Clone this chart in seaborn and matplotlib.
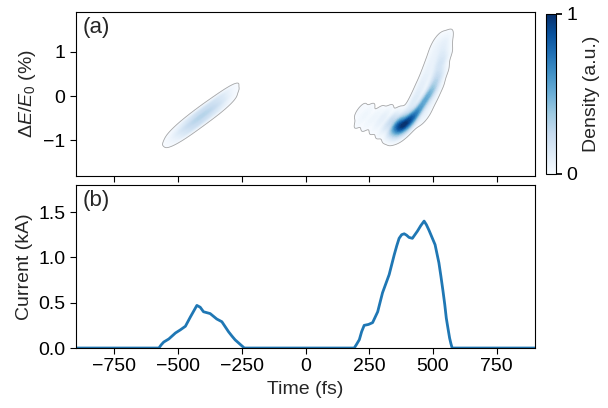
import numpy as np
import pandas as pd
import matplotlib
matplotlib.use('Agg')
from matplotlib import pyplot as plt
from matplotlib.colors import ListedColormap
import seaborn as sns

# phase space: sample points inside each bunch, with weights
# first (weaker) bunch: ridge plus rows just above and below it
bunch1_t = [-505, -475, -448, -420, -395, -370, -345, -320,
            -505, -475, -448, -420, -395, -370, -345, -320,
            -505, -475, -448, -420, -395, -370, -345, -320]
bunch1_de = [-0.85, -0.73, -0.62, -0.50, -0.40, -0.30, -0.20, -0.09,
             -0.75, -0.61, -0.50, -0.38, -0.28, -0.18, -0.08, 0.03,
             -0.95, -0.85, -0.74, -0.62, -0.52, -0.42, -0.32, -0.21]
bunch1_w = [0.4, 0.7, 0.9, 1.0, 0.9, 0.8, 0.7, 0.5,
            0.2, 0.4, 0.6, 0.7, 0.7, 0.6, 0.6, 0.5,
            0.2, 0.5, 0.8, 0.8, 0.6, 0.5, 0.4, 0.3]

# second (main) bunch: tail, dense core, rising arm (ridge, lighter left side, thin right side)
bunch2_t = [215, 215, 245, 245, 280, 280, 310, 310,
            340, 345, 362, 370, 368, 388, 392, 405, 415, 420,
            435, 450, 465, 480, 495, 508, 518, 527, 535, 542, 546,
            410, 425, 440, 455, 470, 485, 498, 510, 520,
            465, 490, 512, 530, 545]
bunch2_de = [-0.33, -0.55, -0.36, -0.60, -0.43, -0.65, -0.45, -0.70,
             -0.55, -0.73, -0.62, -0.68, -0.78, -0.65, -0.74, -0.52, -0.62, -0.45,
             -0.42, -0.27, -0.12, 0.00, 0.14, 0.32, 0.52, 0.74, 0.95, 1.15, 1.30,
             -0.30, -0.12, 0.05, 0.25, 0.45, 0.68, 0.90, 1.12, 1.30,
             -0.45, -0.15, 0.12, 0.45, 0.85]
bunch2_w = [0.08, 0.08, 0.10, 0.10, 0.12, 0.12, 0.20, 0.20,
            0.50, 0.45, 0.90, 1.00, 0.40, 0.90, 0.45, 0.60, 0.55, 0.50,
            0.55, 0.50, 0.50, 0.48, 0.45, 0.42, 0.38, 0.32, 0.25, 0.18, 0.10,
            0.17, 0.17, 0.17, 0.16, 0.15, 0.13, 0.11, 0.09, 0.06,
            0.15, 0.15, 0.13, 0.10, 0.08]

# current profile
cur_t = [-900, -575, -566, -556, -536, -510, -491, -471, -452, -440, -426, -413, -400, -374, -348, -328, -302,
         -288, -276, -240,
         191, 200, 211, 220, 230, 247, 263, 283, 292, 302, 315, 328, 338, 348, 358, 367, 377, 387, 396, 406, 419,
         439, 452, 465, 474, 484, 496, 508, 523, 531, 539, 546, 552, 559, 565, 570, 575, 900]
cur_ka = [0.0, 0.0, 0.035, 0.066, 0.10, 0.166, 0.20, 0.24, 0.34, 0.40, 0.47, 0.45, 0.40, 0.38, 0.32, 0.29, 0.18,
          0.13, 0.09, 0.0,
          0.0, 0.04, 0.092, 0.18, 0.25, 0.26, 0.28, 0.40, 0.50, 0.61, 0.71, 0.81, 0.92, 1.03, 1.13, 1.21, 1.25, 1.26,
          1.245, 1.22, 1.21,
          1.29, 1.35, 1.40, 1.36, 1.30, 1.22, 1.14, 0.94, 0.79, 0.63, 0.48, 0.33, 0.21, 0.11, 0.05, 0.0, 0.0]

b1 = pd.DataFrame({'t': bunch1_t, 'de': bunch1_de, 'w': bunch1_w})
b2 = pd.DataFrame({'t': bunch2_t, 'de': bunch2_de, 'w': bunch2_w})
cur = pd.DataFrame({'t': cur_t, 'I': cur_ka})

sns.set_theme(style='ticks')
plt.rcParams['font.family'] = ['Liberation Sans', 'DejaVu Sans']
plt.rcParams['mathtext.fontset'] = 'custom'
plt.rcParams['mathtext.rm'] = 'Liberation Sans'
plt.rcParams['mathtext.it'] = 'Liberation Sans:italic'
plt.rcParams['axes.edgecolor'] = 'black'
plt.rcParams['xtick.color'] = 'black'
plt.rcParams['ytick.color'] = 'black'

blues = plt.get_cmap('Blues')
# weaker bunch only reaches the light end of the scale
blues_light = ListedColormap(blues(np.linspace(0, 0.3, 256)))

fig = plt.figure(figsize=(6.08, 4.08), dpi=100)
ax1 = fig.add_axes([0.125, 0.569, 0.755, 0.402])
ax2 = fig.add_axes([0.125, 0.147, 0.755, 0.400], sharex=ax1)
cax = fig.add_axes([0.898, 0.574, 0.0165, 0.392])

for df, cm, bw in [(b1, blues_light, 0.6), (b2, blues, 0.27)]:
    sns.kdeplot(data=df, x='t', y='de', weights='w', fill=True, cmap=cm, levels=60, thresh=0.02,
                bw_method=bw, gridsize=200, ax=ax1)
    sns.kdeplot(data=df, x='t', y='de', weights='w', fill=False, levels=[0.02], color='0.65', linewidths=0.6,
                bw_method=bw, gridsize=200, ax=ax1)

sns.lineplot(data=cur, x='t', y='I', color='#1f77b4', lw=2, ax=ax2)

sm = plt.cm.ScalarMappable(cmap='Blues', norm=plt.Normalize(0, 1))
cb = fig.colorbar(sm, cax=cax, ticks=[0, 1])
cb.set_label('Density (a.u.)', fontsize=14)
cb.ax.tick_params(labelsize=14, length=4)
cb.outline.set_linewidth(0.8)

ax1.set_xlim(-900, 900)
ax1.set_ylim(-1.8, 1.9)
ax1.set_yticks([-1, 0, 1])
ax1.set_ylabel(r'$\Delta E/E_0$ (%)', fontsize=14)
ax1.set_xlabel('')
ax1.tick_params(labelbottom=False)
ax1.text(0.015, 0.97, '(a)', transform=ax1.transAxes, fontsize=16, va='top')

ax2.set_ylim(0, 1.8)
ax2.set_xticks([-750, -500, -250, 0, 250, 500, 750])
ax2.set_yticks([0, 0.5, 1.0, 1.5])
ax2.set_xlabel('Time (fs)', fontsize=14)
ax2.set_ylabel('Current (kA)', fontsize=14)
ax2.text(0.015, 0.97, '(b)', transform=ax2.transAxes, fontsize=16, va='top')

for ax in (ax1, ax2):
    ax.tick_params(labelsize=14, length=4, width=0.8)
    for s in ax.spines.values():
        s.set_linewidth(0.8)
        s.set_visible(True)

fig.savefig('out.png', dpi=100)
